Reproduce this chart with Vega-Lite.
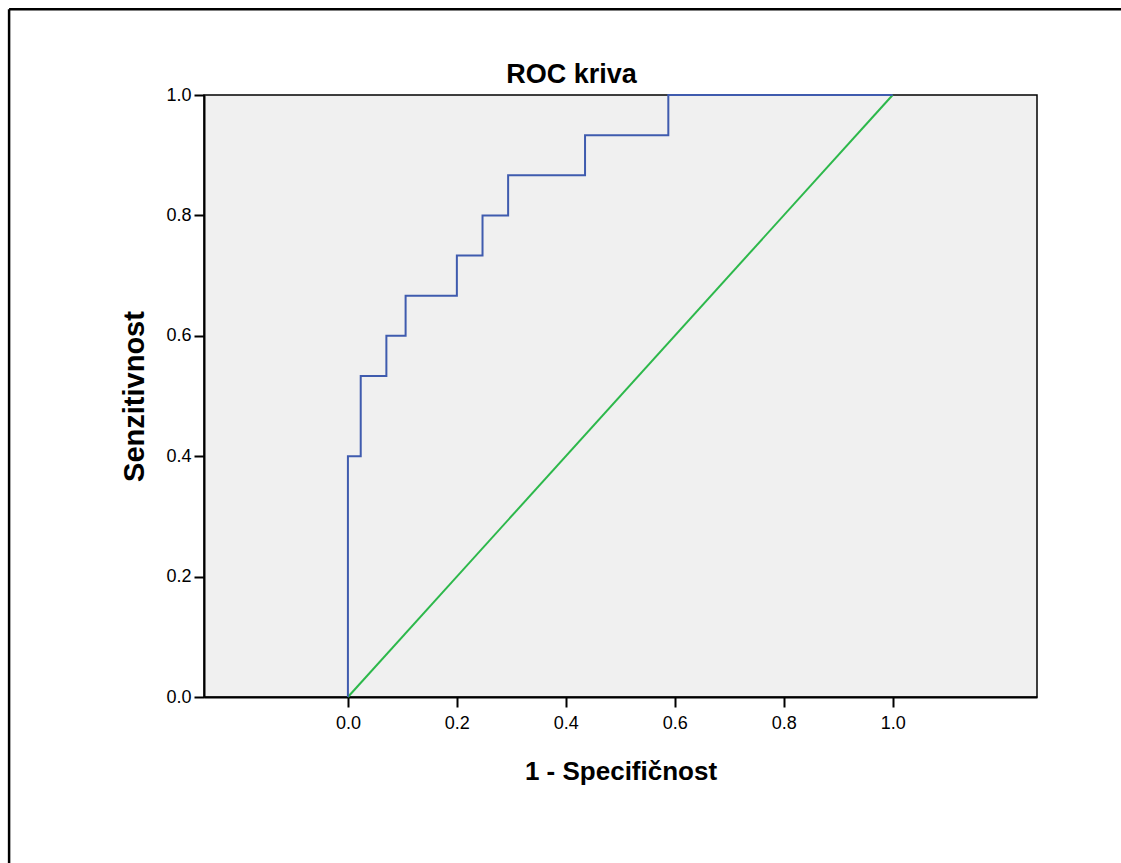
{
  "$schema": "https://vega.github.io/schema/vega-lite/v6.json",
  "width": 833,
  "height": 602,
  "autosize": {"type": "none"},
  "padding": {"left": 204, "top": 95, "right": 84, "bottom": 166},
  "background": "white",
  "title": {"text": "ROC kriva", "font": "Liberation Sans", "fontSize": 27, "fontWeight": "bold", "color": "#000000", "frame": "group", "anchor": "middle", "dx": -49, "offset": -81},
  "config": {
    "view": {"fill": "#f0f0f0", "stroke": "#000000", "strokeWidth": 1.5},
    "axis": {
      "grid": false,
      "domainColor": "#000000",
      "domainWidth": 2,
      "tickColor": "#000000",
      "tickWidth": 2,
      "tickSize": 10,
      "labelFont": "Liberation Sans",
      "labelFontSize": 18,
      "labelColor": "#000000",
      "titleFont": "Liberation Sans",
      "titleFontSize": 26,
      "titleFontWeight": "bold",
      "titleColor": "#000000"
    }
  },
  "datasets": {
    "roc": [
      {"i": 0, "fpr": 0, "tpr": 0},
      {"i": 1, "fpr": 0, "tpr": 0.4},
      {"i": 2, "fpr": 0.0235, "tpr": 0.5333},
      {"i": 3, "fpr": 0.0706, "tpr": 0.6},
      {"i": 4, "fpr": 0.1059, "tpr": 0.6667},
      {"i": 5, "fpr": 0.2, "tpr": 0.7333},
      {"i": 6, "fpr": 0.2471, "tpr": 0.8},
      {"i": 7, "fpr": 0.2941, "tpr": 0.8667},
      {"i": 8, "fpr": 0.4353, "tpr": 0.9333},
      {"i": 9, "fpr": 0.5882, "tpr": 1},
      {"i": 10, "fpr": 1, "tpr": 1}
    ],
    "ref": [
      {"i": 0, "fpr": 0, "tpr": 0},
      {"i": 1, "fpr": 1, "tpr": 1}
    ]
  },
  "layer": [
    {
      "data": {"name": "ref"},
      "mark": {"type": "line", "color": "#2db84b", "strokeWidth": 2},
      "encoding": {
        "x": {
          "field": "fpr", "type": "quantitative",
          "scale": {"domain": [-0.2642, 1.265], "nice": false, "zero": false},
          "axis": {"title": "1 - Specifičnost", "values": [0, 0.2, 0.4, 0.6, 0.8, 1.0], "format": ".1f", "labelPadding": 7, "titlePadding": 26}
        },
        "y": {
          "field": "tpr", "type": "quantitative",
          "scale": {"domain": [0, 1], "nice": false, "zero": false},
          "axis": {"title": "Senzitivnost", "values": [0, 0.2, 0.4, 0.6, 0.8, 1.0], "format": ".1f", "labelPadding": 3, "titlePadding": 16, "titleFontSize": 29}
        },
        "order": {"field": "i"}
      }
    },
    {
      "data": {"name": "roc"},
      "mark": {"type": "line", "interpolate": "step-after", "color": "#3f5bae", "strokeWidth": 2},
      "encoding": {
        "x": {"field": "fpr", "type": "quantitative"},
        "y": {"field": "tpr", "type": "quantitative"},
        "order": {"field": "i"}
      }
    },
    {
      "data": {"values": [{}]},
      "mark": {"type": "rule", "color": "#000000", "strokeWidth": 2.5, "clip": false},
      "encoding": {
        "x": {"datum": -0.622, "type": "quantitative"},
        "y": {"datum": 1.1424, "type": "quantitative"},
        "y2": {"datum": -0.3}
      }
    },
    {
      "data": {"values": [{}]},
      "mark": {"type": "rule", "color": "#000000", "strokeWidth": 2.5, "clip": false},
      "encoding": {
        "x": {"datum": -0.622, "type": "quantitative"},
        "x2": {"datum": 1.45},
        "y": {"datum": 1.1424, "type": "quantitative"}
      }
    }
  ]
}
